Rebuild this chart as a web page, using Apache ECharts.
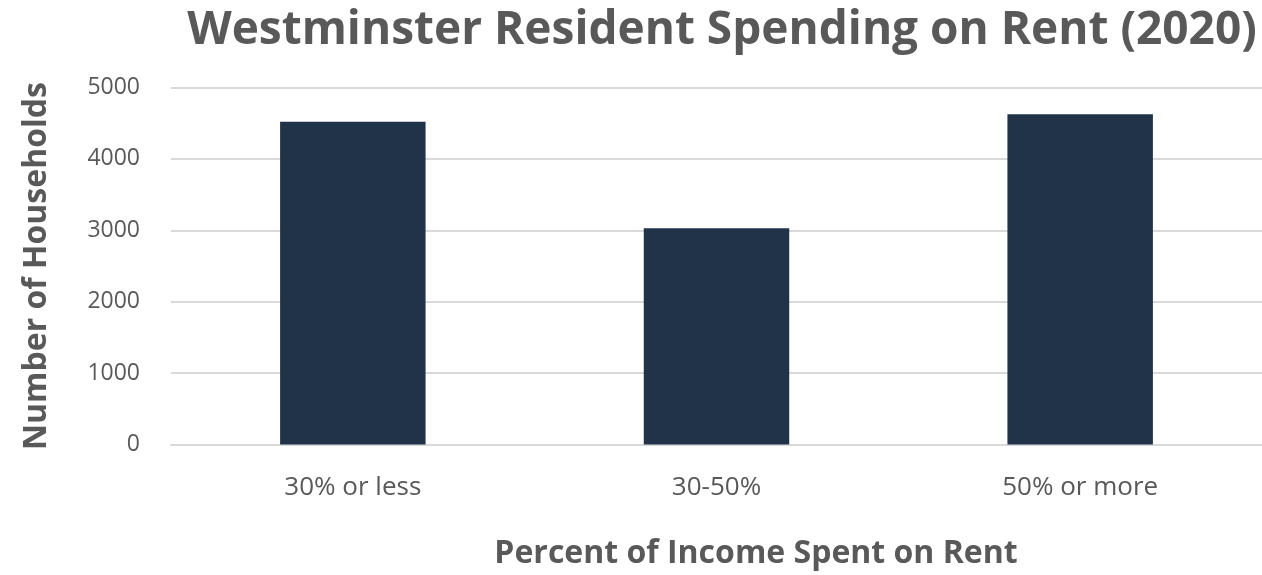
<!DOCTYPE html>
<html>
<head>
<meta charset="utf-8">
<script src="https://cdn.jsdelivr.net/npm/echarts@6/dist/echarts.min.js"></script>
<style>
  html, body { margin: 0; padding: 0; background: #fff; }
  #chart { width: 1262px; height: 575px; }
</style>
</head>
<body>
<div id="chart"></div>
<script>
// data
const categories = ['30% or less', '30-50%', '50% or more']
const households = [4520, 3030, 4625]
const yTicks = [0, 1000, 2000, 3000, 4000, 5000]

const grey = '#595959'
const chart = echarts.init(document.getElementById('chart'))

const option = {
  animation: false,
  title: [{
    text: 'Westminster Resident Spending on Rent (2020)',
    left: 717,
    top: 3,
    textAlign: 'center',
    textStyle: {
      fontFamily: 'Open Sans',
      fontSize: 46,
      fontWeight: 'bold',
      color: grey
    }
  }, {
    text: 'Percent of Income Spent on Rent',
    left: 751,
    top: 533,
    textAlign: 'center',
    textStyle: {
      fontFamily: 'Open Sans',
      fontSize: 32,
      fontWeight: 'bold',
      color: grey
    }
  }],
  grid: {
    left: 171,
    right: 0,
    top: 87.5,
    bottom: 130.5,
    outerBoundsMode: 'none'
  },
  xAxis: {
    type: 'category',
    data: categories,
    axisLine: { show: true, lineStyle: { color: '#d9d9d9', width: 2 } },
    axisTick: { show: false },
    axisLabel: {
      margin: 30,
      fontFamily: 'Open Sans',
      fontSize: 26,
      color: grey
    }
  },
  yAxis: {
    type: 'value',
    min: yTicks[0],
    max: yTicks[yTicks.length - 1],
    interval: 1000,
    name: 'Number of Households',
    nameLocation: 'middle',
    nameGap: 118,
    nameTextStyle: {
      fontFamily: 'Open Sans',
      fontSize: 32,
      fontWeight: 'bold',
      color: grey
    },
    axisLine: { show: false },
    axisTick: { show: false },
    axisLabel: {
      margin: 31,
      fontFamily: 'Open Sans',
      fontSize: 23,
      color: grey,
      formatter: v => String(v)
    },
    splitLine: { lineStyle: { color: '#d9d9d9', width: 2 } }
  },
  series: [{
    type: 'bar',
    data: households,
    barWidth: '40%',
    itemStyle: { color: '#213349' }
  }]
}

chart.setOption(option)
</script>
</body>
</html>
